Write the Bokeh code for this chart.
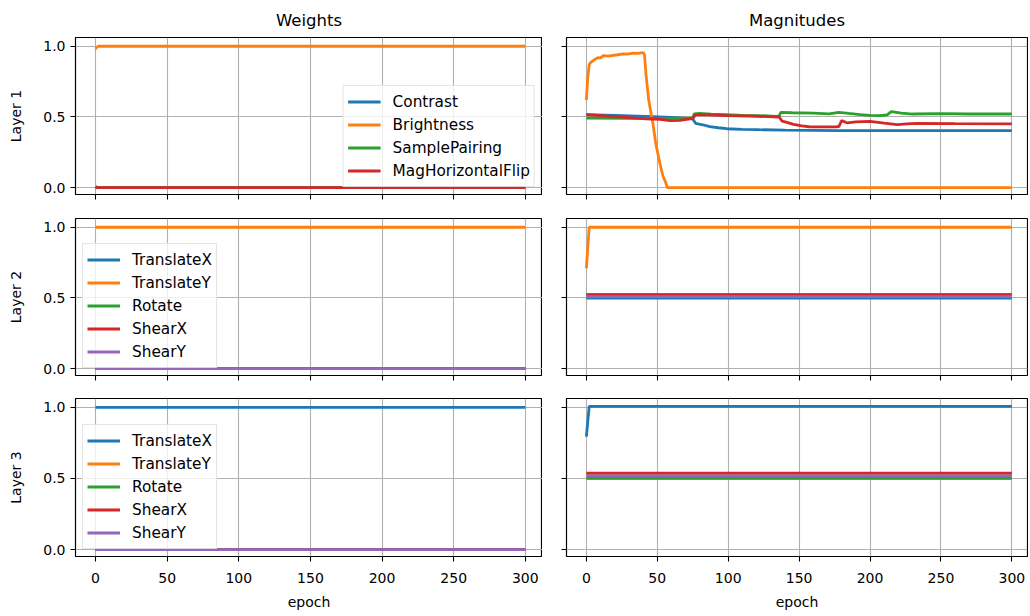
from bokeh.plotting import figure
from bokeh.layouts import column, row
from bokeh.models import FixedTicker, NumeralTickFormatter, Range1d
from bokeh.embed import file_html
from bokeh.resources import INLINE

# ---------------- data ----------------
COLUMN_TITLES = ["Weights", "Magnitudes"]
ROW_LABELS = ["Layer 1", "Layer 2", "Layer 3"]
X_TICKS = [0, 50, 100, 150, 200, 250, 300]
Y_TICKS = [0.0, 0.5, 1.0]
LAYER1_OPS = ["Contrast", "Brightness", "SamplePairing", "MagHorizontalFlip"]
LAYER23_OPS = ["TranslateX", "TranslateY", "Rotate", "ShearX", "ShearY"]

# Layer 1 - weights
w1_epoch = [0, 1, 2, 300]
w1_contrast = [0.006, 0.002, 0.0, 0.0]
w1_brightness = [0.982, 0.994, 1.0, 1.0]
w1_samplepairing = [0.006, 0.002, 0.0, 0.0]
w1_maghflip = [0.006, 0.002, 0.0, 0.0]

# Layer 1 - magnitudes
m1_contrast_epoch = [0, 20, 42, 60, 73, 75, 77, 82, 87, 93, 99, 110, 122, 140, 160, 178, 300]
m1_contrast = [0.517, 0.512, 0.504, 0.497, 0.488, 0.486, 0.455, 0.445, 0.432, 0.424,
               0.417, 0.413, 0.410, 0.407, 0.405, 0.403, 0.403]
m1_brightness_epoch = [0, 1, 2, 3, 5, 8, 10, 12, 15, 19, 22, 26, 29, 33, 36, 40, 41,
                       42, 44, 47, 49, 52, 54, 56, 57, 300]
m1_brightness = [0.62, 0.78, 0.87, 0.885, 0.90, 0.92, 0.918, 0.934, 0.93, 0.936, 0.94,
                 0.946, 0.944, 0.952, 0.95, 0.955, 0.94, 0.806, 0.616, 0.45, 0.308,
                 0.166, 0.083, 0.036, 0.0, 0.0]
m1_samplepairing_epoch = [0, 30, 60, 73, 75, 76, 80, 88, 99, 110, 120, 134, 136, 137,
                          145, 160, 171, 178, 185, 193, 200, 207, 212, 215, 222, 230,
                          250, 270, 300]
m1_samplepairing = [0.493, 0.49, 0.49, 0.493, 0.495, 0.522, 0.526, 0.52, 0.517, 0.512,
                    0.51, 0.505, 0.507, 0.532, 0.53, 0.527, 0.522, 0.533, 0.525, 0.517,
                    0.512, 0.51, 0.515, 0.538, 0.528, 0.521, 0.524, 0.521, 0.521]
m1_maghflip_epoch = [0, 20, 42, 52, 59, 66, 73, 75, 77, 85, 99, 115, 136, 138, 142, 146,
                     152, 157, 170, 176, 178, 180, 184, 190, 200, 210, 219, 226, 233,
                     260, 300]
m1_maghflip = [0.517, 0.503, 0.486, 0.484, 0.474, 0.476, 0.486, 0.488, 0.517, 0.515,
               0.510, 0.507, 0.50, 0.47, 0.46, 0.448, 0.437, 0.431, 0.430, 0.431, 0.432,
               0.474, 0.458, 0.466, 0.469, 0.456, 0.446, 0.452, 0.455, 0.453, 0.452]

# Layer 2
w2_epoch = [0, 300]
w2_translatex = [0.0, 0.0]
w2_translatey = [1.0, 1.0]
w2_rotate = [0.0, 0.0]
w2_shearx = [0.0, 0.0]
w2_sheary = [0.0, 0.0]
m2_epoch = [0, 2, 300]
m2_translatex = [0.50, 0.50, 0.50]
m2_translatey = [0.71, 1.0, 1.0]
m2_rotate = [0.526, 0.526, 0.526]
m2_shearx = [0.52, 0.52, 0.52]
m2_sheary = [0.51, 0.51, 0.51]

# Layer 3
w3_epoch = [0, 300]
w3_translatex = [1.0, 1.0]
w3_translatey = [0.0, 0.0]
w3_rotate = [0.0, 0.0]
w3_shearx = [0.0, 0.0]
w3_sheary = [0.0, 0.0]
m3_epoch = [0, 2, 300]
m3_translatex = [0.794, 1.007, 1.007]
m3_translatey = [0.50, 0.50, 0.50]
m3_rotate = [0.503, 0.503, 0.503]
m3_shearx = [0.537, 0.537, 0.537]
m3_sheary = [0.518, 0.518, 0.518]

COLORS = ["#1f77b4", "#ff7f0e", "#2ca02c", "#d62728", "#9467bd"]
FONT = "DejaVu Sans"

# ---------------- layout ----------------
HEIGHTS = [206, 180, 228]
TOPS = [37, 12, 12]
BOTTOMS = [12, 11, 58]


def make_fig(r, c):
    left = c == 0
    p = figure(width=542 if left else 486, height=HEIGHTS[r],
               x_range=Range1d(-14, 312 if left else 311), y_range=Range1d(-0.048, 1.062),
               output_backend="svg", toolbar_location=None,
               min_border_left=75 if left else 24, min_border_right=0 if left else 1,
               min_border_top=TOPS[r], min_border_bottom=BOTTOMS[r])
    p.background_fill_color = "white"
    p.border_fill_color = "white"
    p.outline_line_color = "black"
    p.outline_line_width = 1.2
    p.xaxis.ticker = FixedTicker(ticks=X_TICKS)
    p.yaxis.ticker = FixedTicker(ticks=Y_TICKS)
    p.yaxis.formatter = NumeralTickFormatter(format="0.0")
    for ax in list(p.xaxis) + list(p.yaxis):
        ax.axis_line_color = None
        ax.major_tick_out = 5
        ax.major_tick_in = 0
        ax.minor_tick_out = 0
        ax.minor_tick_in = 0
        ax.major_tick_line_color = "black"
        ax.major_tick_line_width = 1.1
        ax.major_label_text_font = FONT
        ax.major_label_text_font_size = "14px"
        ax.major_label_text_color = "black"
        ax.axis_label_text_font = FONT
        ax.axis_label_text_font_size = "14px"
        ax.axis_label_text_font_style = "normal"
        ax.axis_label_text_color = "black"
    for g in list(p.xgrid) + list(p.ygrid):
        g.grid_line_color = "#b0b0b0"
        g.grid_line_width = 1.1
    if r < 2:
        p.xaxis.major_label_text_font_size = "0px"
        p.xaxis.major_label_standoff = 0
    else:
        p.xaxis.major_label_standoff = 11
        p.xaxis.axis_label = "epoch"
        p.xaxis.axis_label_standoff = 8
    if left:
        p.yaxis.axis_label = ROW_LABELS[r]
        p.yaxis.major_label_standoff = 5
        p.yaxis.axis_label_standoff = 16
    else:
        p.yaxis.major_label_text_font_size = "0px"
        p.yaxis.major_label_standoff = 0
    if r == 0:
        p.title.text = COLUMN_TITLES[c]
        p.title.align = "center"
        p.title.text_font = FONT
        p.title.text_font_size = "16.5px"
        p.title.text_font_style = "normal"
        p.title.text_color = "black"
        p.title.standoff = 16
    return p


def style_legend(p, loc):
    lg = p.legend[0]
    lg.location = loc
    lg.margin = 7
    lg.padding = 4
    lg.spacing = 0
    lg.glyph_width = 33
    lg.glyph_height = 23
    lg.label_height = 23
    lg.label_standoff = 12
    lg.label_text_font = FONT
    lg.label_text_font_size = "15.3px"
    lg.label_text_color = "black"
    lg.border_line_color = "#cccccc"
    lg.border_line_width = 1
    lg.background_fill_color = "white"
    lg.background_fill_alpha = 0.8


LW = 2.8

# Layer 1
p11 = make_fig(0, 0)
for name, ys, col in zip(LAYER1_OPS,
                         [w1_contrast, w1_brightness, w1_samplepairing, w1_maghflip],
                         COLORS):
    p11.line(w1_epoch, ys, line_color=col, line_width=LW, legend_label=name)
style_legend(p11, "bottom_right")

p12 = make_fig(0, 1)
for xs, ys, col in zip([m1_contrast_epoch, m1_brightness_epoch, m1_samplepairing_epoch, m1_maghflip_epoch],
                       [m1_contrast, m1_brightness, m1_samplepairing, m1_maghflip],
                       COLORS):
    p12.line(xs, ys, line_color=col, line_width=LW)

# Layer 2
p21 = make_fig(1, 0)
for name, ys, col in zip(LAYER23_OPS,
                         [w2_translatex, w2_translatey, w2_rotate, w2_shearx, w2_sheary],
                         COLORS):
    p21.line(w2_epoch, ys, line_color=col, line_width=LW, legend_label=name)
style_legend(p21, "bottom_left")

p22 = make_fig(1, 1)
for ys, col in zip([m2_translatex, m2_translatey, m2_rotate, m2_shearx, m2_sheary], COLORS):
    p22.line(m2_epoch, ys, line_color=col, line_width=LW)

# Layer 3
p31 = make_fig(2, 0)
for name, ys, col in zip(LAYER23_OPS,
                         [w3_translatex, w3_translatey, w3_rotate, w3_shearx, w3_sheary],
                         COLORS):
    p31.line(w3_epoch, ys, line_color=col, line_width=LW, legend_label=name)
style_legend(p31, "bottom_left")

p32 = make_fig(2, 1)
for ys, col in zip([m3_translatex, m3_translatey, m3_rotate, m3_shearx, m3_sheary], COLORS):
    p32.line(m3_epoch, ys, line_color=col, line_width=LW)

layout = column(row(p11, p12), row(p21, p22), row(p31, p32))

with open("out.html", "w") as f:
    f.write(file_html(layout, INLINE))
